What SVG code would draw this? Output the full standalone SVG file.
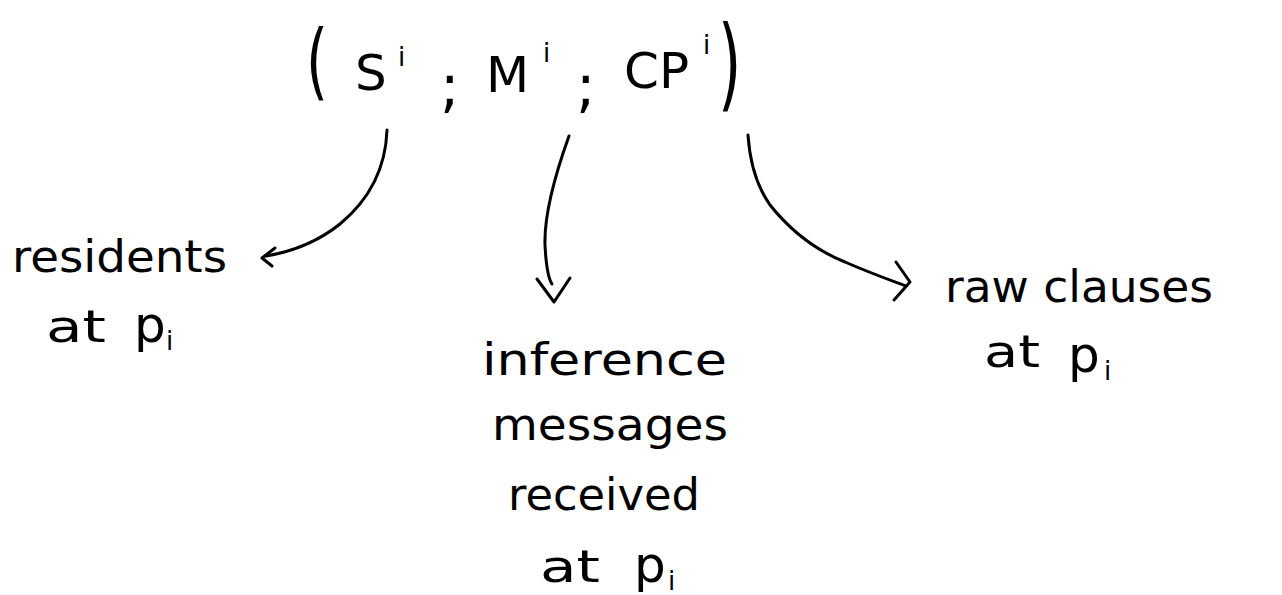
<svg xmlns="http://www.w3.org/2000/svg" width="1282" height="595" viewBox="0 0 1282 595">
  <style>
    text { font-family: "DejaVu Sans", "Liberation Sans", sans-serif; fill: #000; }
    .lbl { font-size: 44px; }
    .big { font-size: 50px; }
    .sup { font-size: 26px; }
    .pp { font-size: 50px; }
    .edge { fill: none; stroke: #000; stroke-width: 3; stroke-linecap: round; stroke-linejoin: round; }
  </style>
  <rect width="1282" height="595" fill="#fff"/>

  <!-- tuple (S^i ; M^i ; CP^i) -->
  <g id="tuple">
    <text transform="translate(306,90) scale(1,1.5)" style="font-size:56px">(</text>
    <text class="big" x="355" y="90">S</text>
    <text class="sup" x="398" y="66">i</text>
    <text class="big" x="440" y="106" style="font-size:58px">;</text>
    <text class="big" x="486" y="92">M</text>
    <text class="sup" x="543" y="62">i</text>
    <text class="big" x="576" y="106" style="font-size:58px">;</text>
    <text class="big" x="624" y="88">CP</text>
    <text class="sup" x="703" y="54">i</text>
    <text transform="translate(718,98) scale(1,1.7)" style="font-size:60px">)</text>
  </g>

  <g id="residents">
    <text class="lbl" x="12" y="272" textLength="215" lengthAdjust="spacingAndGlyphs">residents</text>
    <text class="lbl" x="46" y="342" textLength="60" lengthAdjust="spacingAndGlyphs">at</text>
    <text class="pp" x="134" y="342">p</text>
    <text class="sup" x="166" y="350">i</text>
  </g>

  <g id="inference">
    <text class="lbl" x="482" y="375" textLength="245" lengthAdjust="spacingAndGlyphs">inference</text>
    <text class="lbl" x="492" y="440" textLength="236" lengthAdjust="spacingAndGlyphs">messages</text>
    <text class="lbl" x="508" y="510" textLength="192" lengthAdjust="spacingAndGlyphs">received</text>
    <text class="lbl" x="540" y="582" textLength="60" lengthAdjust="spacingAndGlyphs">at</text>
    <text class="pp" x="634" y="582">p</text>
    <text class="sup" x="668" y="590">i</text>
  </g>

  <g id="raw">
    <text class="lbl" x="945" y="302" textLength="268" lengthAdjust="spacingAndGlyphs">raw clauses</text>
    <text class="lbl" x="984" y="367" textLength="56" lengthAdjust="spacingAndGlyphs">at</text>
    <text class="pp" x="1068" y="372">p</text>
    <text class="sup" x="1104" y="380">i</text>
  </g>

  <!-- connectors -->
  <g id="connectors">
    <path class="edge" d="M387,130 C386,160 375,195 340,224 C315,244 290,252 266,256"/>
    <path class="edge" d="M275,248 L262,258 L272,266"/>

    <path class="edge" d="M569,136 C555,175 544,215 545,245 C546,265 548,278 552,284"/>
    <path class="edge" d="M537,279 L554,302 L570,278"/>

    <path class="edge" d="M748,135 C750,165 758,188 770,205 C790,230 815,250 845,262 C870,273 890,280 906,286"/>
    <path class="edge" d="M896,262 L910,282 L894,300"/>
  </g>
</svg>
